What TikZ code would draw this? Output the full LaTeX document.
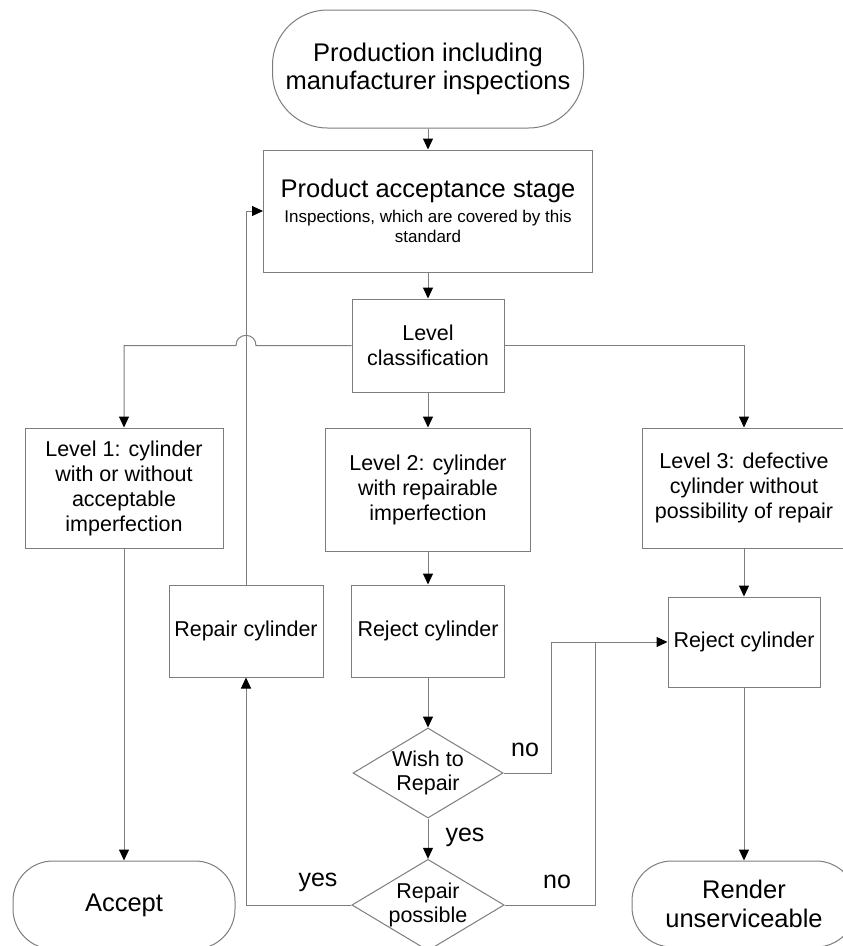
\documentclass[tikz,border=0pt]{standalone}
\usepackage{fontspec}
\setmainfont{Liberation Sans}
\usetikzlibrary{arrows.meta,shapes.geometric}
\definecolor{linegray}{RGB}{125,125,125}
\begin{document}
\begin{tikzpicture}[x=1pt,y=-1pt,
  line/.style={draw=linegray, line width=1pt},
  arr/.style={line, -{Triangle[length=11pt,width=10pt,black]}},
  box/.style={draw=linegray, line width=1pt, rectangle, align=center, inner sep=0pt, font=\fontsize{21.5}{25}\selectfont},
  term/.style={box, rounded corners=40pt, font=\fontsize{25.5}{28.5}\selectfont},
  dec/.style={draw=linegray, line width=1pt, diamond, aspect=1.667, inner sep=0pt, align=center, font=\fontsize{21.5}{24}\selectfont, minimum width=150pt, minimum height=90pt},
  lab/.style={font=\fontsize{25}{28}\selectfont, inner sep=0pt}]
\useasboundingbox (0,0) rectangle (843,946);
\clip (0,0) rectangle (843,946);

% nodes
\node[term, rounded corners=55pt, minimum width=311pt, minimum height=118pt] (prod) at (428,69) {Production including\\manufacturer inspections};
\node[box, minimum width=329pt, minimum height=122pt, font=\fontsize{17}{20}\selectfont] (pas) at (428,211) {{\fontsize{25.5}{29}\selectfont Product acceptance stage}\\[5pt]Inspections, which are covered by this\\standard};
\node[box, minimum width=152pt, minimum height=93pt] (lc) at (428,345.5) {Level\\classification};
\node[box, minimum width=198pt, minimum height=120pt] (l1) at (124,488) {Level 1: cylinder\\with or without\\acceptable\\imperfection};
\node[box, minimum width=205pt, minimum height=123pt] (l2) at (428,489.5) {Level 2: cylinder\\with repairable\\imperfection};
\node[box, minimum width=204pt, minimum height=120pt] (l3) at (744,488) {Level 3: defective\\cylinder without\\possibility of repair};
\node[box, minimum width=154pt, minimum height=92pt] (rep) at (246,631) {Repair cylinder};
\node[box, minimum width=153pt, minimum height=92pt] (rej1) at (428,631) {Reject cylinder};
\node[box, minimum width=152pt, minimum height=90pt] (rej2) at (744,642) {Reject cylinder};
\node[dec] (wish) at (428,773) {Wish to\\Repair};
\node[dec] (rposs) at (428,905) {Repair\\possible};
\node[term, minimum width=222pt, minimum height=88pt] (acc) at (124,905) {Accept};
\node[term, minimum width=224pt, minimum height=86pt] (rend) at (744,904) {Render\\unserviceable};

% labels
\node[lab] (no1) at (525,750) {no};
\node[lab] (no2) at (557,882) {no};
\node[lab] (yes1) at (465,837) {yes};
\node[lab] (yes2) at (318,882) {yes};

% helper coordinates
\coordinate (hopR) at (256,345.5);
\coordinate (hopL) at (236,345.5);
\coordinate (noA) at (551,773);
\coordinate (noB) at (595,905);
\coordinate (noJ) at (595,642);

% connectors
\draw[arr] (prod.south) -- (pas.north);
\draw[arr] (pas.south) -- (lc.north);
\draw[arr] (lc.west) -- (hopR) .. controls (256,332) and (236,332) .. (hopL) -| (l1.north);
\draw[arr] (lc.south) -- (l2.north);
\draw[arr] (lc.east) -| (l3.north);
\draw[arr] (l1.south) -- (acc.north);
\draw[arr] (l2.south) -- (rej1.north);
\draw[arr] (l3.south) -- (rej2.north);
\draw[arr] (rej1.south) -- (wish.north);
\draw[arr] (wish.south) -- (rposs.north);
\draw[arr] (wish.east) -- (noA) |- (rej2.west);
\draw[line] (rposs.east) -- (noB) -- (noJ);
\draw[arr] (rposs.west) -| (rep.south);
\draw[arr] (rep.north) |- (pas.west);
\draw[arr] (rej2.south) -- (rend.north);
\end{tikzpicture}
\end{document}
